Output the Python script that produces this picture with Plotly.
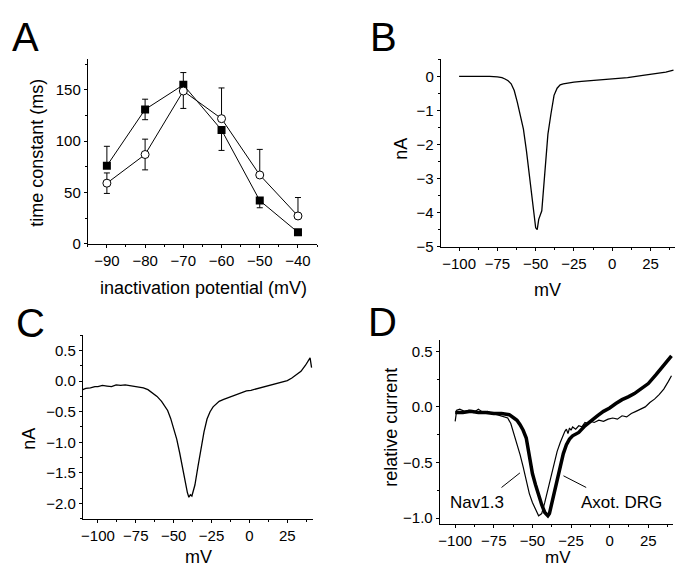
import plotly.graph_objects as go

## Panel A: inactivation time constants
a_x = [-90, -80, -70, -60, -50, -40]
a_square = [76, 131, 155, 111, 42, 11]
a_square_up = [19, 10, 12, 0, 0, 0]
a_square_down = [0, 10, 0, 20, 7, 0]
a_circle = [59, 87, 149, 122, 67, 27]
a_circle_up = [10, 15, 0, 30, 25, 18]
a_circle_down = [10, 15, 17, 0, 0, 0]

## Panel B: current trace (nA)
b_x = [-100, -95, -90, -85, -80, -75, -72, -70, -68, -66, -64, -62, -60, -58, -56, -54,
       -52, -50, -49, -48, -46, -44, -42, -40, -38, -36, -34, -32, -30, -25, -20, -10,
       0, 10, 20, 30, 35, 40]
b_y = [0.0, 0.0, 0.01, 0.0, 0.0, -0.02, -0.04, -0.08, -0.13, -0.22, -0.42, -0.76, -1.15,
       -1.55, -2.2, -3.0, -3.8, -4.45, -4.5, -4.2, -3.95, -2.7, -1.7, -1.1, -0.56, -0.35,
       -0.25, -0.22, -0.2, -0.17, -0.15, -0.12, -0.09, -0.04, 0.03, 0.08, 0.12, 0.18]

## Panel C: current trace (nA)
c_x = [-110, -108, -105, -102, -100, -97, -94, -91, -88, -85, -82, -79, -76, -73, -70,
       -67, -64, -61, -58, -56, -54, -52, -50, -48, -46, -44, -42, -41, -40, -39, -38,
       -36, -34, -32, -30, -28, -26, -24, -22, -20, -17, -14, -11, -8, -5, -2, 1, 4, 7,
       10, 13, 16, 19, 22, 25, 28, 31, 34, 37, 39, 40, 41]
c_y = [-0.14, -0.12, -0.11, -0.09, -0.09, -0.07, -0.08, -0.09, -0.06, -0.07, -0.06, -0.07,
       -0.08, -0.09, -0.11, -0.14, -0.19, -0.25, -0.33, -0.40, -0.48, -0.61, -0.78, -0.95,
       -1.18, -1.45, -1.70, -1.82, -1.90, -1.86, -1.88, -1.70, -1.40, -1.10, -0.83, -0.62,
       -0.50, -0.42, -0.37, -0.33, -0.30, -0.27, -0.24, -0.21, -0.19, -0.16, -0.15, -0.13,
       -0.11, -0.10, -0.08, -0.06, -0.03, -0.01, 0.01, 0.05, 0.10, 0.16, 0.26, 0.35, 0.38, 0.22]

## Panel D: normalized currents
nav_x = [-100, -99, -97, -94, -91, -88, -85, -82, -79, -76, -73, -70, -68, -66, -64, -62,
         -60, -58, -56, -54, -52, -50, -48, -46, -45, -44, -42, -40, -38, -36, -34, -32,
         -30, -29, -28, -27, -26, -25, -24, -22, -20, -18, -16, -14, -12, -10, -7, -4, -1,
         2, 5, 8, 11, 14, 17, 20, 23, 26, 29, 32, 35, 38, 40]
nav_y = [-0.13, -0.03, -0.02, -0.04, -0.03, -0.05, -0.02, -0.05, -0.04, -0.06, -0.07, -0.08,
         -0.09, -0.10, -0.15, -0.24, -0.33, -0.43, -0.54, -0.67, -0.78, -0.86, -0.92, -0.98,
         -0.97, -0.96, -0.86, -0.74, -0.62, -0.50, -0.40, -0.32, -0.25, -0.22, -0.20, -0.24,
         -0.19, -0.21, -0.18, -0.20, -0.17, -0.18, -0.14, -0.15, -0.13, -0.14, -0.12, -0.13,
         -0.11, -0.10, -0.11, -0.08, -0.09, -0.06, -0.04, -0.02, 0.0, 0.04, 0.07, 0.11, 0.16,
         0.23, 0.28]
drg_x = [-100, -95, -90, -85, -80, -75, -70, -65, -62, -60, -58, -56, -54, -52, -50, -48,
         -46, -44, -42, -40, -39, -38, -36, -34, -32, -30, -28, -26, -24, -20, -16, -12, -8,
         -4, 0, 4, 8, 12, 16, 20, 25, 30, 35, 40]
drg_y = [-0.05, -0.05, -0.04, -0.05, -0.05, -0.06, -0.06, -0.07, -0.10, -0.12, -0.16, -0.21,
         -0.28, -0.45, -0.60, -0.70, -0.80, -0.88, -0.95, -0.98, -0.96, -0.90, -0.78, -0.63,
         -0.52, -0.42, -0.34, -0.29, -0.26, -0.23, -0.17, -0.12, -0.08, -0.04, -0.01, 0.03,
         0.065, 0.09, 0.12, 0.16, 0.21, 0.29, 0.37, 0.46]

## the page puts the figure 8px in from the left; vertically it starts at the top
PADX, PADY = 8, 0
W, H = 683 - PADX, 564
FONT = "Liberation Sans, Arial, sans-serif"


def fx(px):
    return (px - PADX) / W


def fy(py):
    return 1 - (py - PADY) / H


fig = go.Figure()

err = dict(type="data", symmetric=False, color="black", thickness=1, width=3)
fig.add_trace(go.Scatter(x=a_x, y=a_square, mode="lines+markers",
                         line=dict(color="black", width=1),
                         marker=dict(symbol="square", size=8, color="black"),
                         error_y=dict(err, array=a_square_up, arrayminus=a_square_down)))
fig.add_trace(go.Scatter(x=a_x, y=a_circle, mode="lines+markers",
                         line=dict(color="black", width=1),
                         marker=dict(symbol="circle", size=8, color="white",
                                     line=dict(width=1, color="black")),
                         error_y=dict(err, array=a_circle_up, arrayminus=a_circle_down)))
fig.add_trace(go.Scatter(x=b_x, y=b_y, mode="lines", line=dict(color="black", width=1.3),
                         xaxis="x2", yaxis="y2"))
fig.add_trace(go.Scatter(x=c_x, y=c_y, mode="lines", line=dict(color="black", width=1.3),
                         xaxis="x3", yaxis="y3"))
fig.add_trace(go.Scatter(x=drg_x, y=drg_y, mode="lines", line=dict(color="black", width=3.5),
                         xaxis="x4", yaxis="y4"))
fig.add_trace(go.Scatter(x=nav_x, y=nav_y, mode="lines", line=dict(color="black", width=1.2),
                         xaxis="x4", yaxis="y4"))


def ax(l, r, rng, dtick, minor, tickfmt=None):
    d = dict(domain=[fx(l), fx(r)], range=rng, dtick=dtick, tick0=0, showgrid=False,
             zeroline=False, showline=True, linecolor="black", linewidth=1, ticks="outside",
             ticklen=3, tickcolor="black", tickfont=dict(size=15, color="black"),
             minor=dict(ticks="outside", ticklen=2, dtick=minor, tickcolor="black"))
    if tickfmt:
        d["tickformat"] = tickfmt
    return d


def ay(top, bottom, rng, dtick, minor, tickfmt=None):
    d = ax(PADX, PADX, rng, dtick, minor, tickfmt)
    d["domain"] = [fy(bottom), fy(top)]
    return d


fig.update_layout(
    width=W, height=H, margin=dict(l=0, r=0, t=0, b=0),
    paper_bgcolor="white", plot_bgcolor="white", showlegend=False,
    font=dict(family=FONT, color="black"),
    xaxis=ax(86, 316, [-95, -35], 10, 5),
    yaxis=ay(52, 239, [0, 180], 50, 25),
    xaxis2=dict(ax(440, 675, [-112, 41], 25, 12.5), anchor="y2"),
    yaxis2=dict(ay(52, 242, [-5, 0.5], 1, 0.5), anchor="x2"),
    xaxis3=dict(ax(81, 312, [-110, 42], 25, 12.5), anchor="y3"),
    yaxis3=dict(ay(332, 518, [-2.25, 0.75], 0.5, 0.25, ".1f"), anchor="x3"),
    xaxis4=dict(ax(439, 673, [-110, 41], 25, 12.5), anchor="y4"),
    yaxis4=dict(ay(337, 523, [-1.05, 0.6], 0.5, 0.25, ".1f"), anchor="x4"),
)


def label(text, x, y, size, angle=0):
    fig.add_annotation(text=text, x=fx(x), y=fy(y), xref="paper", yref="paper",
                       showarrow=False, textangle=angle, font=dict(size=size, color="black"),
                       xanchor="center", yanchor="middle")


# panel letters
for letter, x, y in [("A", 24, 29), ("B", 383, 29), ("C", 29, 320), ("D", 382, 319)]:
    label(letter, x, y, 40)

# axis titles
label("inactivation potential (mV)", 202, 284, 18)
label("time constant (ms)", 35, 147, 18, -90)
label("mV", 547, 286, 18)
label("nA", 400, 143, 18, -90)
label("mV", 197, 557, 18)
label("nA", 27, 437, 18, -90)
label("mV", 558, 557, 17)
label("relative current", 390, 425, 18, -90)

# labels with pointer lines in panel D
fig.add_annotation(text="Nav1.3", x=-86, y=-0.857, xref="x4", yref="y4", showarrow=False,
                   font=dict(size=17, color="black"))
fig.add_annotation(text="Axot. DRG", x=7.5, y=-0.857, xref="x4", yref="y4", showarrow=False,
                   font=dict(size=17, color="black"))
fig.add_shape(type="line", x0=-70, y0=-0.725, x1=-58.1, y1=-0.594, xref="x4", yref="y4",
              line=dict(color="black", width=1))
fig.add_shape(type="line", x0=-15.2, y0=-0.725, x1=-29.9, y1=-0.62, xref="x4", yref="y4",
              line=dict(color="black", width=1))

fig.write_html("out.html")
